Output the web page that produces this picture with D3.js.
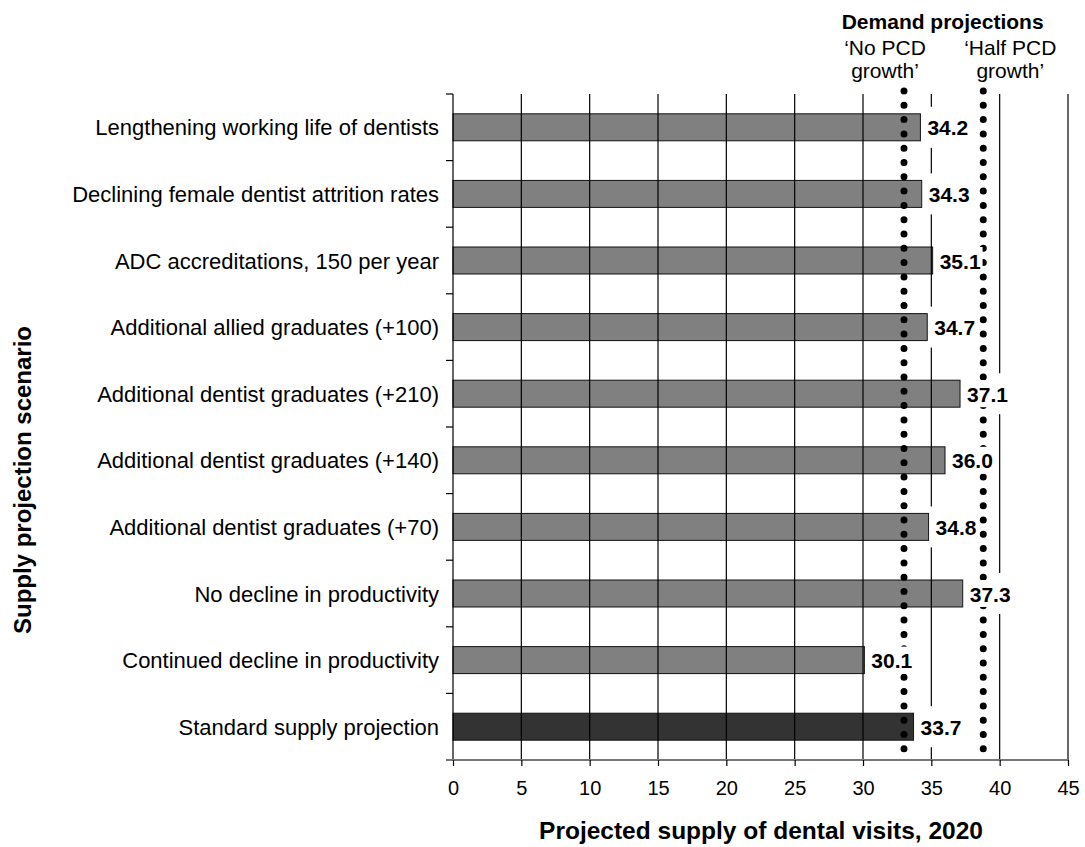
<!DOCTYPE html>
<html>
<head>
<meta charset="utf-8">
<script src="https://cdn.jsdelivr.net/npm/d3@7"></script>
<style>
  html, body { margin: 0; padding: 0; background: #fff; }
  svg { display: block; font-family: "Liberation Sans", Arial, sans-serif; }
</style>
</head>
<body>
<svg id="chart" width="1085" height="847"></svg>
<script>
const categories = [
  "Lengthening working life of dentists",
  "Declining female dentist attrition rates",
  "ADC accreditations, 150 per year",
  "Additional allied graduates (+100)",
  "Additional dentist graduates (+210)",
  "Additional dentist graduates (+140)",
  "Additional dentist graduates (+70)",
  "No decline in productivity",
  "Continued decline in productivity",
  "Standard supply projection"
];
const values = [34.2, 34.3, 35.1, 34.7, 37.1, 36.0, 34.8, 37.3, 30.1, 33.7];
const highlight = "Standard supply projection";
const demandNames = [["\u2018No PCD", "growth\u2019"], ["\u2018Half PCD", "growth\u2019"]];
const demandValues = [33.0, 38.8];
const xTicks = [0, 5, 10, 15, 20, 25, 30, 35, 40, 45];

const svg = d3.select("#chart");
const plot = { left: 453, right: 1068, top: 94, bottom: 760 };

const x = d3.scaleLinear().domain([0, 45]).range([plot.left, plot.right]);
const y = d3.scaleBand().domain(categories).range([plot.top, plot.bottom]).padding(0);
const barH = y.bandwidth() * 0.405;
const data = categories.map((c, i) => ({ c, v: values[i] }));

// bars
svg.append("g").selectAll("rect").data(data).join("rect")
  .attr("x", x(0))
  .attr("y", d => y(d.c) + (y.bandwidth() - barH) / 2)
  .attr("width", d => x(d.v) - x(0))
  .attr("height", barH)
  .attr("fill", d => d.c === highlight ? "#333333" : "#808080")
  .attr("stroke", "#111")
  .attr("stroke-width", 1);

// vertical gridlines (on top of bars)
svg.append("g").selectAll("line").data(xTicks.filter(t => t > 0)).join("line")
  .attr("x1", d => x(d)).attr("x2", d => x(d))
  .attr("y1", plot.top).attr("y2", plot.bottom)
  .attr("stroke", "#000").attr("stroke-width", 1.2);

const fmt = d3.format(".1f");
const labelFont = 21;

// measure label widths
const tmp = svg.append("text").attr("font-size", labelFont).attr("font-weight", "bold");
const widths = data.map(d => { tmp.text(fmt(d.v)); return tmp.node().getComputedTextLength(); });
tmp.remove();

// large white label boxes
svg.append("g").selectAll("rect").data(data).join("rect")
  .attr("x", d => x(d.v) + 1)
  .attr("y", d => y(d.c) + y.bandwidth() / 2 - 20.5)
  .attr("width", (d, i) => widths[i] + 10)
  .attr("height", 41)
  .attr("fill", "#fff");

// dotted demand lines
svg.append("g").selectAll("line").data(demandValues).join("line")
  .attr("x1", d => x(d)).attr("x2", d => x(d))
  .attr("y1", 91).attr("y2", 750)
  .attr("stroke", "#000")
  .attr("stroke-width", 7)
  .attr("stroke-linecap", "round")
  .attr("stroke-dasharray", "0,14.3");

// tight white label boxes
svg.append("g").selectAll("rect").data(data).join("rect")
  .attr("x", d => x(d.v) + 4)
  .attr("y", d => y(d.c) + y.bandwidth() / 2 - 13.5)
  .attr("width", (d, i) => widths[i] + 5)
  .attr("height", 27)
  .attr("fill", "#fff");

// value labels
svg.append("g").selectAll("text").data(data).join("text")
  .attr("x", d => x(d.v) + 7)
  .attr("y", d => y(d.c) + y.bandwidth() / 2 + 8)
  .attr("font-size", labelFont)
  .attr("font-weight", "bold")
  .attr("fill", "#000")
  .text(d => fmt(d.v));

// y axis
const yAxis = svg.append("g");
yAxis.append("line")
  .attr("x1", plot.left).attr("x2", plot.left)
  .attr("y1", plot.top).attr("y2", plot.bottom)
  .attr("stroke", "#000").attr("stroke-width", 1.2);
const boundaries = categories.map(c => y(c)).concat([plot.bottom]);
yAxis.selectAll("line.tick").data(boundaries).join("line")
  .attr("class", "tick")
  .attr("x1", plot.left - 7).attr("x2", plot.left)
  .attr("y1", d => d).attr("y2", d => d)
  .attr("stroke", "#000").attr("stroke-width", 1.2);
yAxis.selectAll("text").data(categories).join("text")
  .attr("x", 439)
  .attr("y", d => y(d) + y.bandwidth() / 2 + 8)
  .attr("text-anchor", "end")
  .attr("font-size", 22)
  .attr("fill", "#000")
  .text(d => d);

// x axis
const xAxis = svg.append("g").attr("transform", `translate(0,${plot.bottom})`)
  .call(d3.axisBottom(x).tickValues(xTicks).tickSize(6).tickPadding(15).tickFormat(d3.format("d")));
xAxis.select(".domain").attr("stroke", "#777").attr("stroke-width", 2).attr("d", `M${plot.left - 7},0H${plot.right}`);
xAxis.selectAll(".tick line").attr("stroke", "#000").attr("stroke-width", 1.2);
xAxis.selectAll(".tick text").attr("font-size", 20).attr("fill", "#000")
  .attr("font-family", "'Liberation Sans', Arial, sans-serif");

// axis titles
svg.append("text")
  .attr("x", 761).attr("y", 839)
  .attr("text-anchor", "middle")
  .attr("font-size", 24.5).attr("font-weight", "bold")
  .text("Projected supply of dental visits, 2020");

svg.append("text")
  .attr("transform", "translate(31,480) rotate(-90)")
  .attr("text-anchor", "middle")
  .attr("font-size", 24).attr("font-weight", "bold")
  .text("Supply projection scenario");

// demand annotations
svg.append("text")
  .attr("x", (x(demandValues[0]) + x(demandValues[1])) / 2 - 1).attr("y", 29)
  .attr("text-anchor", "middle")
  .attr("font-size", 21).attr("font-weight", "bold")
  .text("Demand projections");
const dxOff = [-19, 27];
demandValues.forEach((v, i) => {
  demandNames[i].forEach((line, j) => {
    svg.append("text")
      .attr("x", x(v) + dxOff[i])
      .attr("y", 55 + j * 23)
      .attr("text-anchor", "middle")
      .attr("font-size", 21)
      .text(line);
  });
});
</script>
</body>
</html>
